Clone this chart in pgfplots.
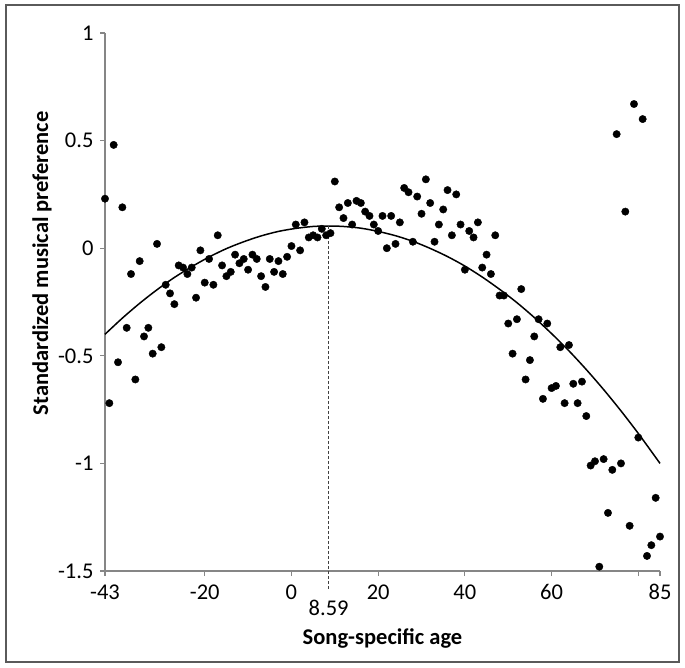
\documentclass[border=0pt]{standalone}
\usepackage{fontspec}
\setmainfont{Carlito}
\usepackage{pgfplots}
\pgfplotsset{compat=1.18}
\definecolor{axisgray}{HTML}{868686}
\definecolor{framegray}{HTML}{5A5A5A}

\pgfplotstableread{
x y
-43 0.23
-42 -0.72
-41 0.48
-40 -0.53
-39 0.19
-38 -0.37
-37 -0.12
-36 -0.61
-35 -0.06
-34 -0.41
-33 -0.37
-32 -0.49
-31 0.02
-30 -0.46
-29 -0.17
-28 -0.21
-27 -0.26
-26 -0.08
-25 -0.09
-24 -0.12
-23 -0.09
-22 -0.23
-21 -0.01
-20 -0.16
-19 -0.05
-18 -0.17
-17 0.06
-16 -0.08
-15 -0.13
-14 -0.11
-13 -0.03
-12 -0.07
-11 -0.05
-10 -0.10
-9 -0.03
-8 -0.05
-7 -0.13
-6 -0.18
-5 -0.05
-4 -0.11
-3 -0.06
-2 -0.12
-1 -0.04
0 0.01
1 0.11
2 -0.01
3 0.12
4 0.05
5 0.06
6 0.05
7 0.09
8 0.06
9 0.07
10 0.31
11 0.19
12 0.14
13 0.21
14 0.11
15 0.22
16 0.21
17 0.17
18 0.15
19 0.11
20 0.08
21 0.15
22 0.00
23 0.15
24 0.02
25 0.12
26 0.28
27 0.26
28 0.03
29 0.24
30 0.16
31 0.32
32 0.21
33 0.03
34 0.11
35 0.18
36 0.27
37 0.06
38 0.25
39 0.11
40 -0.10
41 0.08
42 0.05
43 0.12
44 -0.09
45 -0.03
46 -0.12
47 0.06
48 -0.22
49 -0.22
50 -0.35
51 -0.49
52 -0.33
53 -0.19
54 -0.61
55 -0.52
56 -0.41
57 -0.33
58 -0.70
59 -0.35
60 -0.65
61 -0.64
62 -0.46
63 -0.72
64 -0.45
65 -0.63
66 -0.72
67 -0.62
68 -0.78
69 -1.01
70 -0.99
71 -1.48
72 -0.98
73 -1.23
74 -1.03
75 0.53
76 -1.00
77 0.17
78 -1.29
79 0.67
80 -0.88
81 0.60
82 -1.43
83 -1.38
84 -1.16
85 -1.34
}\songdata

% fitted quadratic
\pgfplotstableread{
x y
-43 -0.400
-39 -0.325
-35 -0.256
-31 -0.193
-27 -0.136
-23 -0.086
-19 -0.041
-15 -0.002
-11 0.030
-7 0.057
-3 0.078
1 0.092
5 0.101
8.59 0.103
12 0.101
16 0.093
20 0.078
24 0.058
28 0.032
32 -0.001
36 -0.039
40 -0.083
44 -0.134
48 -0.191
52 -0.253
56 -0.322
60 -0.397
64 -0.477
68 -0.564
72 -0.657
76 -0.756
80 -0.861
84 -0.972
85 -1.000
}\fitdata

\begin{document}
\begin{tikzpicture}
\begin{axis}[
    at={(105pt,96pt)}, anchor=south west,
    scale only axis,
    width=555pt, height=538pt,
    xmin=-43, xmax=85,
    ymin=-1.5, ymax=1,
    axis x line*=bottom,
    axis y line*=left,
    axis line style={draw=axisgray, line width=1.2pt},
    tick style={draw=axisgray, line width=1.2pt},
    tick align=outside,
    major tick length=5pt,
    xtick={-43,-20,0,20,40,60,80,85},
    xticklabels={-43,-20,0,20,40,60,,85},
    ytick={-1.5,-1,-0.5,0,0.5,1},
    yticklabels={-1.5,-1,-0.5,0,0.5,1},
    tick label style={font=\fontsize{22.5}{26}\selectfont, text=black},
    xticklabel style={yshift=-5pt},
    yticklabel style={xshift=-3pt},
    xlabel={Song-specific age},
    ylabel={Standardized musical preference},
    label style={font=\fontsize{22.5}{26}\selectfont\bfseries},
    xlabel style={at={(axis description cs:0.5,0)}, anchor=center, yshift=-67pt},
    ylabel style={at={([xshift=-63pt]axis description cs:0,0.572)}, anchor=center},
    clip=false,
]
\addplot[black, line width=1.5pt, smooth] table[x=x, y=y] {\fitdata};
\addplot[only marks, mark=*, mark size=3.7pt, black] table[x=x, y=y] {\songdata};
\draw[densely dashed, black!75, line width=0.9pt] (axis cs:8.59,0.103) -- ([yshift=-20pt]axis cs:8.59,-1.5);
\node[font=\fontsize{22.5}{26}\selectfont, anchor=center] at ([yshift=-37pt]axis cs:8.59,-1.5) {8.59};
\end{axis}
\draw[framegray, line width=1.4pt] (6pt,5pt) rectangle (679pt,662pt);
\pgfresetboundingbox
\path (0pt,0pt) rectangle (685pt,667pt);
\end{tikzpicture}
\end{document}
